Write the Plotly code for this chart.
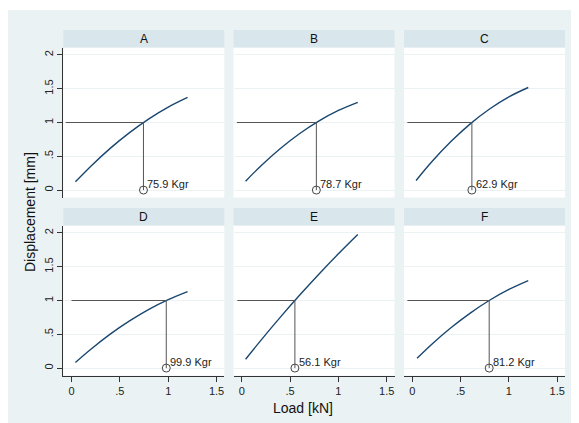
import plotly.graph_objects as go

W, H = 579, 423

# ---------------- data ----------------
panels = ["A", "B", "C", "D", "E", "F"]
load_x = [0.04, 0.2, 0.4, 0.6, 0.8, 1.0, 1.2]
load_x_F = [0.05, 0.2, 0.4, 0.6, 0.8, 1.0, 1.2]
disp_A = [0.123, 0.354, 0.617, 0.850, 1.054, 1.228, 1.371]
disp_B = [0.132, 0.360, 0.615, 0.837, 1.024, 1.178, 1.298]
disp_C = [0.141, 0.414, 0.717, 0.980, 1.200, 1.380, 1.518]
disp_D = [0.083, 0.279, 0.502, 0.698, 0.869, 1.013, 1.132]
disp_E = [0.131, 0.414, 0.754, 1.080, 1.393, 1.691, 1.976]
disp_F = [0.144, 0.349, 0.596, 0.814, 1.004, 1.164, 1.295]
kgr = [75.9, 78.7, 62.9, 99.9, 56.1, 81.2]
cross_x = [0.744, 0.772, 0.617, 0.980, 0.550, 0.796]
hline_start = [-0.06, -0.05, -0.05, 0.0, -0.045, -0.05]
ref_y = 1.0
x_ticks = [0, 0.5, 1, 1.5]
x_ticktext = ["0", ".5", "1", "1.5"]
y_ticks = [0, 0.5, 1, 1.5, 2]
y_ticktext = ["0", ".5", "1", "1.5", "2"]

xs_all = [load_x, load_x, load_x, load_x, load_x, load_x_F]
ys_all = [disp_A, disp_B, disp_C, disp_D, disp_E, disp_F]

# ---------------- style / geometry ----------------
FONT = "Liberation Sans, Arial, Helvetica, sans-serif"
BG = "#EAF2F3"
HEAD = "#D9E6EB"
NAVY = "#1A476F"
REF = "#555555"
AX = "#333333"

col_px = [(63.3, 224.3), (233.5, 394.5), (404.0, 565.0)]
row_px = [(47.5, 197.5), (225.5, 375.5)]
head_h = 17.5

def fx(px):
    return px / W

def fy(py):
    return 1 - py / H

fig = go.Figure()
shapes = []
annotations = []

for i, name in enumerate(panels):
    r, c = divmod(i, 3)
    ax = "" if i == 0 else str(i + 1)
    xa, ya = "x" + ax, "y" + ax
    x0p, x1p = col_px[c]
    y0p, y1p = row_px[r]

    # curve
    fig.add_trace(go.Scatter(x=xs_all[i], y=ys_all[i], mode="lines",
                             line=dict(color=NAVY, width=1.4, shape="spline", smoothing=1.0),
                             xaxis=xa, yaxis=ya, showlegend=False, hoverinfo="skip"))
    # reference lines
    fig.add_trace(go.Scatter(x=[hline_start[i], cross_x[i], cross_x[i]], y=[ref_y, ref_y, 0],
                             mode="lines", line=dict(color=REF, width=1),
                             xaxis=xa, yaxis=ya, showlegend=False, hoverinfo="skip"))
    # marker
    fig.add_trace(go.Scatter(x=[cross_x[i]], y=[0], mode="markers",
                             marker=dict(symbol="circle-open", size=8, color="#444444",
                                         line=dict(width=1)),
                             xaxis=xa, yaxis=ya, showlegend=False, hoverinfo="skip"))
    annotations.append(dict(x=cross_x[i], y=0, xref=xa, yref=ya, text=f"{kgr[i]} Kgr",
                            showarrow=False, xanchor="left", yanchor="middle",
                            xshift=2, yshift=6, font=dict(family=FONT, size=11, color="#222")))

    bottom = (r == 1)
    left = (c == 0)
    fig.layout["xaxis" + ax] = dict(
        domain=[fx(x0p), fx(x1p)], range=[-0.085, 1.58], anchor=ya,
        showgrid=False, zeroline=False,
        showline=bottom, linecolor=AX, linewidth=1,
        ticks="outside" if bottom else "", ticklen=5, tickcolor=AX,
        tickvals=x_ticks, ticktext=x_ticktext, showticklabels=bottom,
        tickfont=dict(family=FONT, size=11, color="#222"), fixedrange=True)
    fig.layout["yaxis" + ax] = dict(
        domain=[fy(y1p), fy(y0p)], range=[-0.11, 2.11], anchor=xa,
        showgrid=True, gridcolor=BG, gridwidth=1, zeroline=False,
        showline=left, linecolor=AX, linewidth=1,
        ticks="outside" if left else "", ticklen=5, tickcolor=AX,
        tickvals=y_ticks, ticktext=y_ticktext, showticklabels=left, tickangle=-90,
        tickfont=dict(family=FONT, size=11, color="#222"), fixedrange=True)

    # header band
    shapes.append(dict(type="rect", xref="paper", yref="paper", layer="below",
                       x0=fx(x0p), x1=fx(x1p), y0=fy(y0p), y1=fy(y0p - head_h),
                       fillcolor=HEAD, line=dict(width=0)))
    annotations.append(dict(x=fx((x0p + x1p) / 2), y=fy(y0p - head_h / 2), xref="paper", yref="paper",
                            text=name, showarrow=False, xanchor="center", yanchor="middle",
                            font=dict(family=FONT, size=12, color="#111")))

# white outer margins (paper background is the light graph region colour)
for (a, b, cc, d) in [(0, 0, W, 10), (0, 0, 8, H), (571, 0, W, H)]:
    shapes.append(dict(type="rect", xref="paper", yref="paper", layer="below",
                       x0=fx(a), x1=fx(cc), y0=fy(d), y1=fy(b),
                       fillcolor="white", line=dict(width=0)))

annotations.append(dict(x=fx(30), y=fy(212), xref="paper", yref="paper", text="Displacement [mm]",
                        textangle=-90, showarrow=False, xanchor="center", yanchor="middle",
                        font=dict(family=FONT, size=14, color="#111")))
annotations.append(dict(x=fx(303), y=fy(408), xref="paper", yref="paper", text="Load [kN]",
                        showarrow=False, xanchor="center", yanchor="middle",
                        font=dict(family=FONT, size=14, color="#111")))

fig.update_layout(width=W, height=H, margin=dict(l=0, r=0, t=0, b=0),
                  paper_bgcolor=BG, plot_bgcolor="white",
                  shapes=shapes, annotations=annotations, showlegend=False)

fig.write_html("out.html")
